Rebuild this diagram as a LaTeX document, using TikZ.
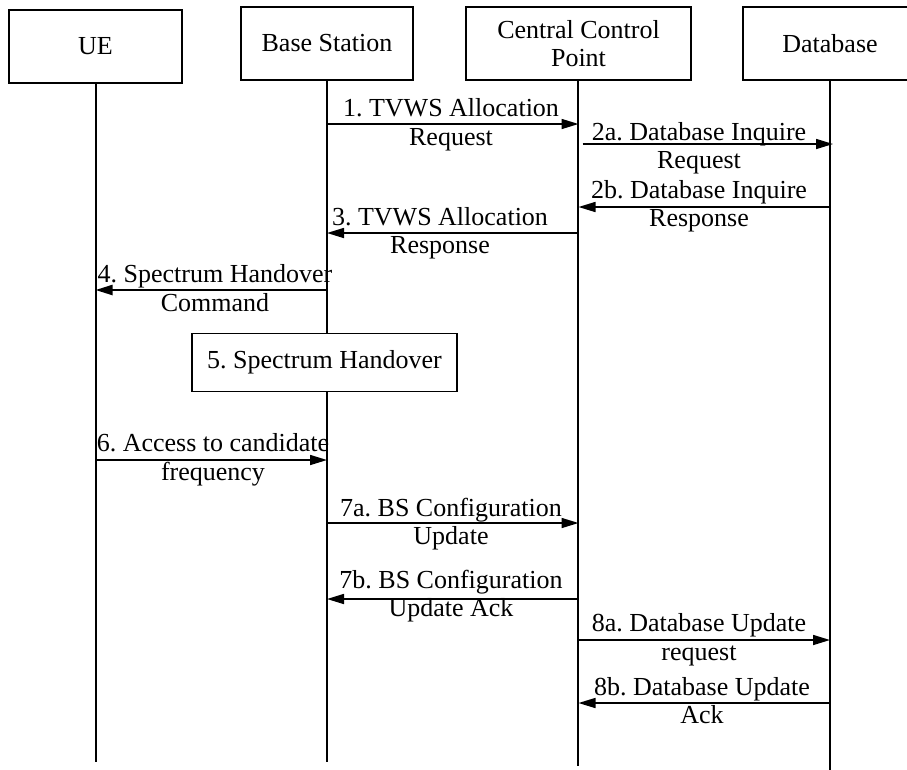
\documentclass[tikz,border=0pt]{standalone}
\usepackage{fontspec}
\setmainfont{Liberation Serif}
\usetikzlibrary{arrows.meta}
\frenchspacing
\begin{document}
\begin{tikzpicture}[x=1pt,y=-1pt,
  every node/.style={font=\fontsize{26}{28.3}\selectfont, inner sep=0pt},
  actor/.style={draw, line width=1.6pt, fill=white, minimum height=73pt, align=center},
  life/.style={line width=1.8pt},
  msg/.style={line width=1.6pt, -{Triangle[length=17pt,width=10pt]}},
  lbl/.style={align=center, anchor=base}]
\useasboundingbox (0,0) rectangle (907,769);
\clip (0,0) rectangle (907,769);
% lifeline ends
\coordinate (ueE) at (96,762);
\coordinate (bsE) at (327,762);
\coordinate (ccpE) at (578,766);
\coordinate (dbE) at (830,775);
% lifelines
\draw[life] (96,46) -- (ueE);
\draw[life] (327,43) -- (bsE);
\draw[life] (578,43) -- (ccpE);
\draw[life] (830,43) -- (dbE);
% actors
\node[actor, minimum width=173pt] (ue) at (95.5,46.5) {UE};
\node[actor, minimum width=172pt] (bs) at (327,43.5) {Base Station};
\node[actor, minimum width=225pt] (ccp) at (578.5,43.5) {Central Control\\Point};
\node[actor, minimum width=174pt] (db) at (830,43.5) {Database};
% step 5 box
\node[actor, minimum width=265pt, minimum height=58pt] (ho) at (324.5,362.5) {5. Spectrum Handover};
% messages (label y = baseline of last line)
\draw[msg] (bs.south |- 0,124) -- (ccp.south |- 0,124);
\node[lbl] (m1) at (451,145) {1. TVWS Allocation\\Request};
\draw[msg] ([xshift=4pt]ccp.south |- 0,144) -- ([xshift=3pt]db.south |- 0,144);
\node[lbl] (m2a) at (699,168.3) {2a. Database Inquire\\Request};
\draw[msg] (db.south |- 0,207) -- (ccp.south |- 0,207);
\node[lbl] (m2b) at (699,226.8) {2b. Database Inquire\\Response};
\draw[msg] (ccp.south |- 0,233) -- (bs.south |- 0,233);
\node[lbl] (m3) at (440,253.3) {3. TVWS Allocation\\Response};
\draw[msg, line width=2.2pt] (bs.south |- 0,290) -- (ue.south |- 0,290);
\node[lbl] (m4) at (215,311) {4. Spectrum Handover\\Command};
\draw[msg] (ue.south |- 0,460) -- (bs.south |- 0,460);
\node[lbl] (m6) at (213,480) {6. Access to candidate\\frequency};
\draw[msg] (bs.south |- 0,523) -- (ccp.south |- 0,523);
\node[lbl] (m7a) at (451,544.3) {7a. BS Configuration\\Update};
\draw[msg] (ccp.south |- 0,599) -- (bs.south |- 0,599);
\node[lbl] (m7b) at (451,616.6) {7b. BS Configuration\\Update Ack};
\draw[msg] (ccp.south |- 0,640) -- (db.south |- 0,640);
\node[lbl] (m8a) at (699,660) {8a. Database Update\\request};
\draw[msg] (db.south |- 0,703) -- (ccp.south |- 0,703);
\node[lbl] (m8b) at (702,723.3) {8b. Database Update\\Ack};
\end{tikzpicture}
\end{document}
